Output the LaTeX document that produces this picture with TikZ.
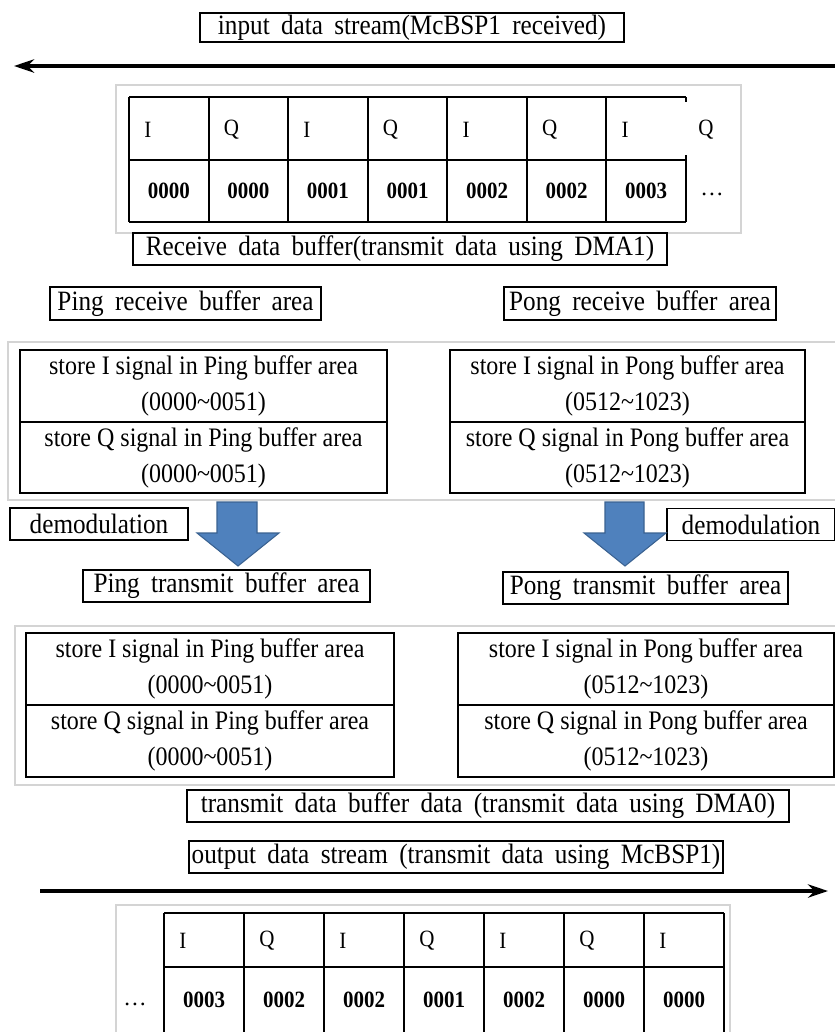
\documentclass[tikz,border=0pt]{standalone}
\usepackage{fontspec}
\usepackage{graphicx}
\setmainfont{Liberation Serif}
\usetikzlibrary{arrows.meta}

\newcommand\lblfont{\fontsize{21}{24}\selectfont\spaceskip=0.45em plus 0.1em minus 0.1em\relax}
\newcommand\cellfont{\fontsize{20}{27}\selectfont}
\newcommand\gridfont{\fontsize{17.5}{20}\selectfont}
\newcommand\px[1]{#1*0.75pt}
\newcommand\narrow[1]{\scalebox{0.9}[1]{#1}}
\newcommand\twolines[2]{\narrow{#1}\\\narrow{#2}}

\definecolor{framegray}{HTML}{D4D4D4}
\definecolor{blockfill}{HTML}{4F81BD}
\definecolor{blockedge}{HTML}{3A6291}

\tikzset{
  label box/.style={draw, line width=1.1pt, inner sep=0pt, font=\lblfont},
  frame/.style={draw=framegray, line width=0.8pt},
  half/.style={draw, line width=1.1pt, inner sep=0pt, align=center, font=\cellfont},
  grid/.style={line width=1.6pt},
  gtxt/.style={font=\gridfont, inner sep=0pt},
  gnum/.style={font=\gridfont\bfseries, inner sep=0pt},
  stream/.style={line width=3pt, -{Stealth[length=15pt,width=10pt]}},
  block/.style={fill=blockfill, draw=blockedge, line width=0.8pt},
}

\begin{document}
\begin{tikzpicture}[x=0.75pt,y=-0.75pt]
\useasboundingbox (0,0) rectangle (835,1032);

% ---------- input stream ----------
\node[label box, minimum width=\px{424}, minimum height=\px{29}] (inlbl) at (412,27.5)
  {\narrow{input data stream(McBSP1 received)}};
\coordinate (inStart) at (835,66);
\coordinate (inEnd) at (14,66);
\draw[stream] (inStart) -- (inEnd);

% ---------- receive data buffer (DMA1) ----------
\draw[frame] (116,85) rectangle (741,233);
\begin{scope}[grid]
  \draw (129,97) -- (686,97);
  \draw (129,160) -- (686,160);
  \draw (129,222) -- (686,222);
  \foreach \i in {0,...,6} { \draw ({129+\i*79.571},97) -- ({129+\i*79.571},222); }
  \draw (686,160) -- (686,222);
  \draw (686,97) -- (686,102);
  \draw (686,160) -- (686,155);
\end{scope}
\foreach \t [count=\i from 0] in {I,Q,I,Q,I,Q,I} {
  \node[gtxt, anchor=west] (ra\i) at ({129+\i*79.571+15},130) {\narrow{\t}};
}
\node[gtxt, anchor=west] (raq) at (698,130) {\narrow{Q}};
\foreach \t [count=\i from 0] in {0000,0000,0001,0001,0002,0002,0003} {
  \node[gnum] (rb\i) at ({129+\i*79.571+39.8},191) {\narrow{\t}};
}
\node[gtxt] (rbdots) at (712,194) {\ldots};

\node[label box, minimum width=\px{534}, minimum height=\px{32}] (rxlbl) at (400,249)
  {\narrow{Receive data buffer(transmit data using DMA1)}};

% ---------- ping / pong receive ----------
\node[label box, minimum width=\px{271}, minimum height=\px{33}] (pingrx) at (185.5,303.5)
  {\narrow{Ping receive buffer area}};
\node[label box, minimum width=\px{272}, minimum height=\px{33}] (pongrx) at (640,303.5)
  {\narrow{Pong receive buffer area}};

\draw[frame] (8,342) rectangle (840,500);
\node[half, minimum width=\px{367}, minimum height=\px{72}] (pingrxI) at (203.5,386)
  {\twolines{store I signal in Ping buffer area}{(0000\textasciitilde0051)}};
\node[half, minimum width=\px{367}, minimum height=\px{71}] (pingrxQ) at (203.5,457.5)
  {\twolines{store Q signal in Ping buffer area}{(0000\textasciitilde0051)}};
\node[half, minimum width=\px{355}, minimum height=\px{72}] (pongrxI) at (627.5,386)
  {\twolines{store I signal in Pong buffer area}{(0512\textasciitilde1023)}};
\node[half, minimum width=\px{355}, minimum height=\px{71}] (pongrxQ) at (627.5,457.5)
  {\twolines{store Q signal in Pong buffer area}{(0512\textasciitilde1023)}};

% ---------- demodulation ----------
\node[label box, minimum width=\px{178}, minimum height=\px{32}] (demodL) at (99,524)
  {\narrow{demodulation}};
\node[label box, minimum width=\px{168}, minimum height=\px{32}] (demodR) at (751,524.5)
  {\narrow{demodulation}};
\draw[block] (217,502) -- (257,502) -- (257,533) -- (279,533) -- (238,566)
  -- (197,533) -- (217,533) -- cycle;
\draw[block] (605,502) -- (644,502) -- (644,533) -- (666,533) -- (625,566)
  -- (584,533) -- (605,533) -- cycle;

% ---------- ping / pong transmit ----------
\node[label box, minimum width=\px{287}, minimum height=\px{32}] (pingtx) at (226.5,586)
  {\narrow{Ping transmit buffer area}};
\node[label box, minimum width=\px{285}, minimum height=\px{32}] (pongtx) at (645.5,588)
  {\narrow{Pong transmit buffer area}};

\draw[frame] (15,626) rectangle (840,785);
\node[half, minimum width=\px{368}, minimum height=\px{72}] (pingtxI) at (210,669)
  {\twolines{store I signal in Ping buffer area}{(0000\textasciitilde0051)}};
\node[half, minimum width=\px{368}, minimum height=\px{72}] (pingtxQ) at (210,741)
  {\twolines{store Q signal in Ping buffer area}{(0000\textasciitilde0051)}};
\node[half, minimum width=\px{376}, minimum height=\px{72}] (pongtxI) at (646,669)
  {\twolines{store I signal in Pong buffer area}{(0512\textasciitilde1023)}};
\node[half, minimum width=\px{376}, minimum height=\px{72}] (pongtxQ) at (646,741)
  {\twolines{store Q signal in Pong buffer area}{(0512\textasciitilde1023)}};

% ---------- transmit / output ----------
\node[label box, minimum width=\px{602}, minimum height=\px{32}] (txlbl) at (488,806)
  {\narrow{transmit data buffer data (transmit data using DMA0)}};
\node[label box, minimum width=\px{534}, minimum height=\px{32}] (outlbl) at (456,857)
  {\narrow{output data stream (transmit data using McBSP1)}};
\coordinate (outStart) at (40,891);
\coordinate (outEnd) at (828,891);
\draw[stream] (outStart) -- (outEnd);

% ---------- output buffer ----------
\draw[frame] (116,1040) -- (116,905) -- (730,905) -- (730,1040);
\begin{scope}[grid]
  \draw (164,913) -- (724,913);
  \draw (164,967) -- (724,967);
  \draw (164,1036) -- (724,1036);
  \foreach \i in {0,...,7} { \draw ({164+\i*80},913) -- ({164+\i*80},1036); }
\end{scope}
\foreach \t [count=\i from 0] in {I,Q,I,Q,I,Q,I} {
  \node[gtxt, anchor=west] (oa\i) at ({164+\i*80+15},941) {\narrow{\t}};
}
\foreach \t [count=\i from 0] in {0003,0002,0002,0001,0002,0000,0000} {
  \node[gnum] (ob\i) at ({164+\i*80+40},1000) {\narrow{\t}};
}
\node[gtxt] (obdots) at (135,1004) {\ldots};
\end{tikzpicture}
\end{document}
